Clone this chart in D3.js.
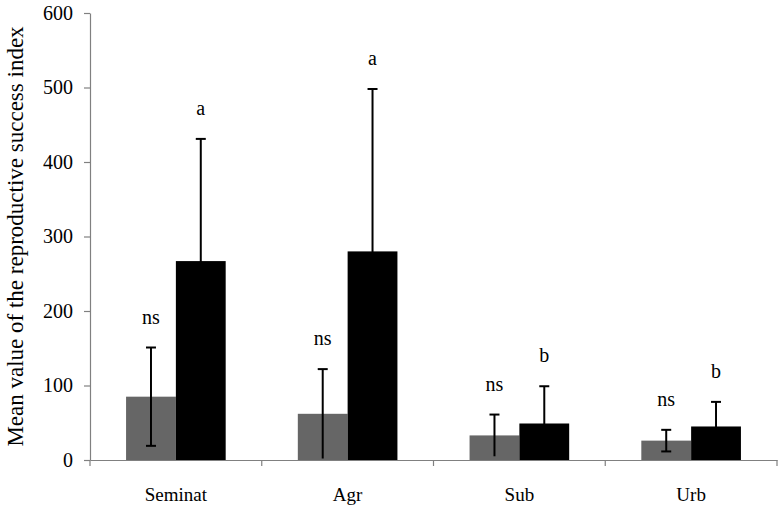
<!DOCTYPE html>
<html>
<head>
<meta charset="utf-8">
<script src="https://cdn.jsdelivr.net/npm/d3@7"></script>
<style>
  body { margin: 0; background: #fff; }
  svg { display: block; }
  svg text { font-family: 'Liberation Serif', 'Times New Roman', Times, serif !important; fill: #000; }
</style>
</head>
<body>
<svg id="chart" width="783" height="510"></svg>
<script>
const categories = ["Seminat", "Agr", "Sub", "Urb"];
const grayMeans = [85, 62, 33, 26];
const grayErr = [66, 60, 28, 14.5];
const blackMeans = [267, 280, 49, 45];
const blackErr = [164, 218, 50, 33];
const grayLabels = ["ns", "ns", "ns", "ns"];
const blackLabels = ["a", "a", "b", "b"];
const yTicks = [0, 100, 200, 300, 400, 500, 600];
const yTitle = "Mean value of the reproductive success index";

const FONT = "'Liberation Serif', 'Times New Roman', Times, serif";
const svg = d3.select("#chart");
const m = { left: 90, right: 6, top: 13, bottom: 50 };
const W = 783, H = 510;

const x = d3.scaleBand().domain(categories).range([m.left, W - m.right]).paddingInner(0).paddingOuter(0);
const y = d3.scaleLinear().domain([0, 600]).range([H - m.bottom, m.top]);

const bw = x.bandwidth();
const barW = bw * 0.29;
const pad = (bw - 2 * barW) / 2;

const series = [
  { means: grayMeans, errs: grayErr, labels: grayLabels, color: "#666666", off: pad },
  { means: blackMeans, errs: blackErr, labels: blackLabels, color: "#000000", off: pad + barW }
];

series.forEach(s => {
  const g = svg.append("g");
  g.selectAll("rect").data(categories).join("rect")
    .attr("x", (c) => x(c) + s.off)
    .attr("width", barW)
    .attr("y", (c, i) => y(s.means[i]))
    .attr("height", (c, i) => y(0) - y(s.means[i]))
    .attr("fill", s.color);
});

// axes
const yAxis = d3.axisLeft(y).tickValues(yTicks).tickSize(6).tickPadding(11).tickSizeOuter(0);
const gy = svg.append("g").attr("transform", `translate(${m.left},0)`).call(yAxis)
  .attr("font-family", FONT).attr("font-size", 20);
gy.select(".domain").attr("stroke", "#808080").attr("stroke-width", 1.2);
gy.selectAll(".tick line").attr("stroke", "#808080").attr("stroke-width", 1.2);
gy.selectAll(".tick text").attr("fill", "#000");

const xAxis = d3.axisBottom(x).tickSize(0).tickSizeOuter(0).tickPadding(28);
const gx = svg.append("g").attr("transform", `translate(0,${y(0)})`).call(xAxis)
  .attr("font-family", FONT).attr("font-size", 19);
gx.select(".domain").attr("stroke", "#808080").attr("stroke-width", 1.2);
gx.selectAll(".tick text").attr("fill", "#000");
// category boundary ticks
const bounds = categories.map(c => x(c)).concat([x(categories[categories.length - 1]) + bw]);
gx.selectAll("line.bound").data(bounds).join("line").attr("class", "bound")
  .attr("x1", d => d).attr("x2", d => d).attr("y1", 0).attr("y2", 6)
  .attr("stroke", "#808080").attr("stroke-width", 1.2);

// error bars and labels
series.forEach(s => {
  const g = svg.append("g");
  categories.forEach((c, i) => {
    const cx = x(c) + s.off + barW / 2;
    const hi = s.means[i] + s.errs[i];
    const lo = Math.max(0, s.means[i] - s.errs[i]);
    g.append("line").attr("x1", cx).attr("x2", cx).attr("y1", y(lo)).attr("y2", y(hi))
      .attr("stroke", "#000").attr("stroke-width", 2);
    const caps = (y(0) - y(lo) > 4) ? [hi, lo] : [hi];
    caps.forEach(v => {
      g.append("line").attr("x1", cx - 5).attr("x2", cx + 5).attr("y1", y(v)).attr("y2", y(v))
        .attr("stroke", "#000").attr("stroke-width", 2);
    });
    g.append("text").attr("x", cx).attr("y", y(hi) - 24)
      .attr("text-anchor", "middle").attr("font-family", FONT).attr("font-size", 20)
      .text(s.labels[i]);
  });
});

svg.append("text")
  .attr("transform", `translate(23,${(y(0) + y(600)) / 2}) rotate(-90)`)
  .attr("text-anchor", "middle")
  .attr("font-family", FONT).attr("font-size", 23)
  .text(yTitle);
</script>
</body>
</html>
